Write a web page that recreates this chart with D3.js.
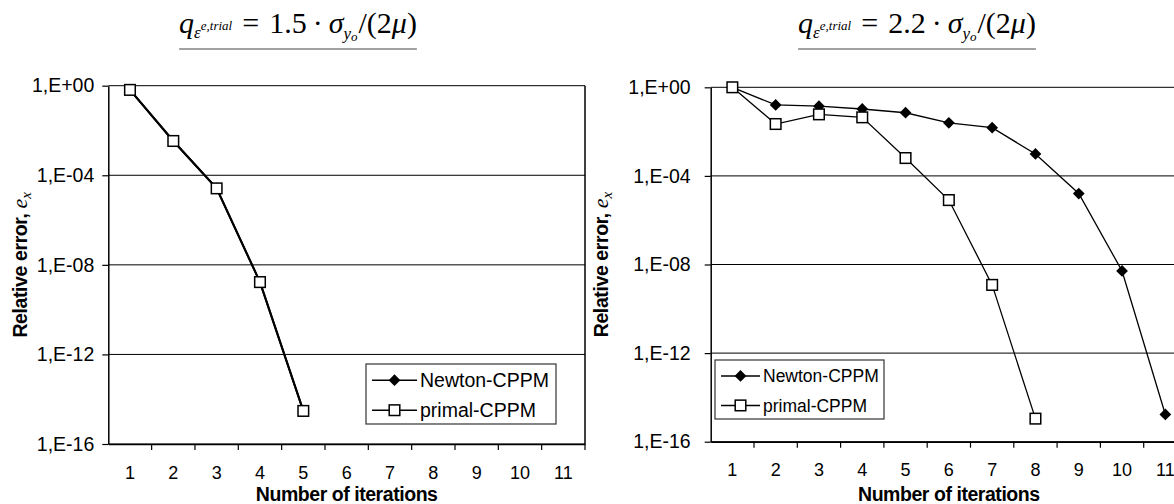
<!DOCTYPE html>
<html>
<head>
<meta charset="utf-8">
<script src="https://cdn.jsdelivr.net/npm/d3@7"></script>
<style>
  html, body { margin: 0; padding: 0; background: #fff; }
  svg { display: block; }
  .tick text { font-family: "Liberation Sans", Arial, sans-serif; fill: #000; }
</style>
</head>
<body>
<svg id="chart" width="1174" height="504"></svg>
<script>
// Iteration numbers on the category axis
const iterations = [1, 2, 3, 4, 5, 6, 7, 8, 9, 10, 11];

// Logarithmic error axis: tick values and their printed labels
const yTickValues = [1, 1e-4, 1e-8, 1e-12, 1e-16];
const yTickLabels = ["1,E+00", "1,E-04", "1,E-08", "1,E-12", "1,E-16"];

// Panel A: trial strain ratio 1.5
const newtonA = [6.5e-1, 3.4e-3, 2.6e-5, 1.7e-9, 3.0e-15];
const primalA = [6.5e-1, 3.4e-3, 2.6e-5, 1.7e-9, 3.0e-15];

// Panel B: trial strain ratio 2.2
const newtonB = [1, 1.6e-1, 1.4e-1, 1.05e-1, 7.1e-2, 2.5e-2, 1.5e-2, 9.8e-4, 1.6e-5, 5.1e-9, 1.7e-15];
const primalB = [1, 2.2e-2, 6.0e-2, 4.4e-2, 6.4e-4, 8.1e-6, 1.2e-9, 1.1e-15];

const seriesNames = ["Newton-CPPM", "primal-CPPM"];
const ratioValues = ["1.5", "2.2"];

const svg = d3.select("#chart");
const sans = '"Liberation Sans", Arial, sans-serif';
const serif = '"Liberation Serif", "Times New Roman", serif';

// Filled diamond (rotated square) and open square markers
const diamondPath = d3.symbol().type(d3.symbolDiamond2).size(88)();
const SQ = 5.3;

function drawPanel(cfg) {
  const g = svg.append("g");
  const x = d3.scaleBand().domain(iterations).range([cfg.left, cfg.right]).paddingInner(0).paddingOuter(0);
  const y = d3.scaleLog().domain([1e-16, 1]).range([cfg.bottom, cfg.top]);
  const cx = d => x(d) + x.bandwidth() / 2;

  // Horizontal gridlines at each labelled decade
  g.append("g").selectAll("line").data(yTickValues).join("line")
    .attr("x1", cfg.left).attr("x2", cfg.right)
    .attr("y1", d => y(d)).attr("y2", d => y(d))
    .attr("stroke", "#000").attr("stroke-width", 1);

  // Right frame edge
  g.append("line")
    .attr("x1", cfg.right).attr("x2", cfg.right)
    .attr("y1", cfg.top).attr("y2", cfg.bottom)
    .attr("stroke", "#000").attr("stroke-width", 1.5);

  // Y axis
  const yAxis = g.append("g")
    .attr("transform", `translate(${cfg.left},0)`)
    .call(d3.axisLeft(y).tickValues(yTickValues)
      .tickFormat((d, i) => yTickLabels[i]).tickSize(6).tickSizeOuter(0).tickPadding(cfg.yPad));
  yAxis.select(".domain").attr("stroke", "#000").attr("stroke-width", 1.5);
  yAxis.selectAll(".tick line").attr("stroke", "#000").attr("stroke-width", 1.2);
  yAxis.selectAll(".tick text").attr("font-size", cfg.yFont);

  // X axis: labels centred in each category, ticks on category boundaries
  const xAxis = g.append("g")
    .attr("transform", `translate(0,${cfg.bottom})`)
    .call(d3.axisBottom(x).tickSize(0).tickPadding(22));
  xAxis.select(".domain").attr("stroke", "#000").attr("stroke-width", 1.5);
  xAxis.selectAll(".tick text").attr("font-size", cfg.xFont);
  g.append("g").selectAll("line").data(iterations.slice(1).concat(["end"])).join("line")
    .attr("x1", d => d === "end" ? cfg.right : x(d))
    .attr("x2", d => d === "end" ? cfg.right : x(d))
    .attr("y1", cfg.bottom).attr("y2", cfg.bottom + 6)
    .attr("stroke", "#000").attr("stroke-width", 1.2);

  // Axis titles
  g.append("text")
    .attr("x", (cfg.left + cfg.right) / 2).attr("y", 501)
    .attr("text-anchor", "middle")
    .attr("font-family", sans).attr("font-weight", "bold")
    .attr("font-size", 19.5).attr("letter-spacing", -0.45)
    .text("Number of iterations");

  const yt = g.append("text")
    .attr("transform", `translate(${cfg.yTitleX},${(cfg.top + cfg.bottom) / 2}) rotate(-90)`)
    .attr("text-anchor", "middle");
  yt.append("tspan").attr("font-family", sans).attr("font-weight", "bold")
    .attr("font-size", 19.5).attr("letter-spacing", -0.4).text("Relative error, ");
  yt.append("tspan").attr("font-family", serif).attr("font-style", "italic")
    .attr("font-size", 22).text("e");
  yt.append("tspan").attr("font-family", serif).attr("font-style", "italic")
    .attr("font-size", 15).attr("dy", 4).text("x");

  // Series lines and markers (Newton first, primal drawn over it)
  const line = d3.line().x((d, i) => cx(iterations[i])).y(d => y(d));
  [cfg.newton, cfg.primal].forEach(vals => {
    g.append("path").datum(vals).attr("d", line)
      .attr("fill", "none").attr("stroke", "#000").attr("stroke-width", cfg.lineW);
  });
  g.append("g").selectAll("path").data(cfg.newton).join("path")
    .attr("transform", (d, i) => `translate(${cx(iterations[i])},${y(d)})`)
    .attr("d", diamondPath).attr("fill", "#000");
  g.append("g").selectAll("rect").data(cfg.primal).join("rect")
    .attr("x", (d, i) => cx(iterations[i]) - SQ).attr("y", d => y(d) - SQ)
    .attr("width", 2 * SQ).attr("height", 2 * SQ)
    .attr("fill", "#fff").attr("stroke", "#000").attr("stroke-width", 1.5);

  // Legend
  const lg = g.append("g");
  lg.append("rect")
    .attr("x", cfg.legend.x).attr("y", cfg.legend.y)
    .attr("width", cfg.legend.w).attr("height", cfg.legend.h)
    .attr("fill", "#fff").attr("stroke", "#333").attr("stroke-width", 1.2);
  seriesNames.forEach((name, i) => {
    const ly = cfg.legend.y + cfg.legend.h * (i === 0 ? 0.27 : 0.77);
    const lx0 = cfg.legend.x + 6, lx1 = lx0 + cfg.legend.lineLen, mid = (lx0 + lx1) / 2;
    lg.append("line").attr("x1", lx0).attr("x2", lx1).attr("y1", ly).attr("y2", ly)
      .attr("stroke", "#000").attr("stroke-width", 1.5);
    if (i === 0) {
      lg.append("path").attr("transform", `translate(${mid},${ly})`)
        .attr("d", diamondPath).attr("fill", "#000");
    } else {
      lg.append("rect").attr("x", mid - SQ).attr("y", ly - SQ)
        .attr("width", 2 * SQ).attr("height", 2 * SQ)
        .attr("fill", "#fff").attr("stroke", "#000").attr("stroke-width", 1.5);
    }
    lg.append("text").attr("x", lx1 + 3).attr("y", ly).attr("dy", "0.36em")
      .attr("font-family", sans).attr("font-size", cfg.legend.font).text(name);
  });

  // Formula heading with underline
  const ft = g.append("text")
    .attr("x", cfg.formulaX).attr("y", 33)
    .attr("text-anchor", "middle")
    .attr("font-family", serif).attr("font-size", 30);
  ft.append("tspan").attr("font-style", "italic").text("q");
  ft.append("tspan").attr("font-style", "italic").attr("font-size", 17).attr("dy", 5).text("ε");
  ft.append("tspan").attr("font-style", "italic").attr("font-size", 13).attr("dy", -8).text("e,trial");
  ft.append("tspan").attr("dy", 3).attr("dx", 10).text("=");
  ft.append("tspan").attr("dx", 10).text(cfg.ratio);
  ft.append("tspan").attr("dx", 6).text("·");
  ft.append("tspan").attr("dx", 6).attr("font-style", "italic").text("σ");
  ft.append("tspan").attr("font-style", "italic").attr("font-size", 17).attr("dy", 6).text("y");
  ft.append("tspan").attr("font-style", "italic").attr("font-size", 13).attr("dy", 2).text("o");
  ft.append("tspan").attr("dy", -8).attr("dx", 1).text("/(2");
  ft.append("tspan").attr("font-style", "italic").text("μ");
  ft.append("tspan").text(")");
  const bb = ft.node().getBBox();
  g.append("line")
    .attr("x1", bb.x).attr("x2", bb.x + bb.width)
    .attr("y1", 49).attr("y2", 49)
    .attr("stroke", "#444").attr("stroke-width", 1.2);
}

drawPanel({
  left: 108.3, right: 585, top: 85.7, bottom: 444,
  newton: newtonA, primal: primalA, ratio: ratioValues[0],
  yPad: 8, yFont: 19.5, xFont: 18, yTitleX: 27, lineW: 2,
  formulaX: 298,
  legend: { x: 366, y: 364, w: 190, h: 60, lineLen: 45, font: 19.5 }
});

drawPanel({
  left: 710.7, right: 1187, top: 87.3, bottom: 441.7,
  newton: newtonB, primal: primalB, ratio: ratioValues[1],
  yPad: 14, yFont: 19.5, xFont: 18, yTitleX: 608, lineW: 1.3,
  formulaX: 917,
  legend: { x: 715, y: 360, w: 169, h: 59, lineLen: 39, font: 17.5 }
});
</script>
</body>
</html>
